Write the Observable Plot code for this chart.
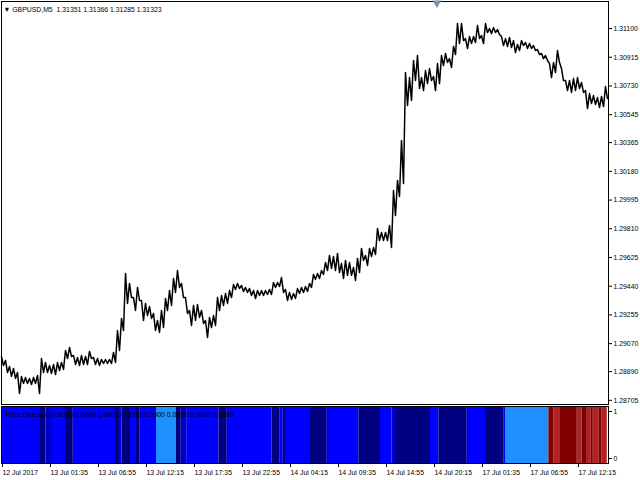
<!DOCTYPE html>
<html><head><meta charset="utf-8">
<script src="https://cdn.jsdelivr.net/npm/d3@7"></script>
<script src="https://cdn.jsdelivr.net/npm/@observablehq/plot@0.6"></script>
<style>
body{margin:0;background:#fff;}
#chart{position:relative;width:640px;height:480px;overflow:hidden;background:#fff;}
#chart svg{display:block;}
</style></head><body><div id="chart"></div>
<script>
// ---- data ----
const symbolTitle = "GBPUSD,M5";
const lastOHLC = ["1.31351", "1.31366", "1.31285", "1.31323"];
const indicatorTitle = "Price Direction";
const indicatorValues = ["0.0000", "0.0000", "1.0000", "0.0000", "0.0000", "0.0000", "0.0000", "0.0000"];

const priceTicks = [1.31100, 1.30915, 1.30730, 1.30545, 1.30365, 1.30180, 1.29995, 1.29810,
  1.29625, 1.29440, 1.29255, 1.29070, 1.28890, 1.28705];
const indicatorTicks = [0, 1];

const timeTickSamples = [0, 12, 24, 36, 48, 60, 72, 84, 96, 108, 120, 132, 144];
const timeTickLabels = ["12 Jul 2017", "13 Jul 01:35", "13 Jul 06:55", "13 Jul 12:15", "13 Jul 17:35",
  "13 Jul 22:55", "14 Jul 04:15", "14 Jul 09:35", "14 Jul 14:55", "14 Jul 20:15",
  "17 Jul 01:35", "17 Jul 06:55", "17 Jul 12:15"];

// price range per sample (one sample = ~20 min of M5 bars)
const sampleHigh = [
  1.28987, 1.28962, 1.28923, 1.28910, 1.28884, 1.28859, 1.28852, 1.28846, 1.28852, 1.28865,
  1.28974, 1.28949, 1.28929, 1.28936, 1.28949, 1.28949, 1.29026, 1.29045, 1.28994, 1.28981,
  1.28994, 1.28987, 1.29020, 1.28981, 1.28974, 1.28968, 1.28968, 1.28968, 1.29013, 1.29155,
  1.29232, 1.29522, 1.29458, 1.29367, 1.29432, 1.29348, 1.29329, 1.29309, 1.29264, 1.29219,
  1.29284, 1.29361, 1.29412, 1.29490, 1.29541, 1.29458, 1.29367, 1.29284, 1.29316, 1.29322,
  1.29284, 1.29219, 1.29239, 1.29251, 1.29367, 1.29380, 1.29393, 1.29412, 1.29451, 1.29458,
  1.29445, 1.29432, 1.29425, 1.29412, 1.29412, 1.29412, 1.29412, 1.29419, 1.29464, 1.29464,
  1.29496, 1.29419, 1.29400, 1.29393, 1.29425, 1.29432, 1.29438, 1.29458, 1.29516, 1.29522,
  1.29541, 1.29593, 1.29638, 1.29631, 1.29651, 1.29586, 1.29606, 1.29593, 1.29561, 1.29619,
  1.29683, 1.29638, 1.29683, 1.29689, 1.29812, 1.29786, 1.29786, 1.29831, 1.30056, 1.30121,
  1.30378, 1.30816, 1.30784, 1.30894, 1.30926, 1.30784, 1.30829, 1.30842, 1.30791, 1.30874,
  1.30926, 1.30939, 1.30906, 1.30984, 1.31132, 1.31132, 1.31035, 1.31048, 1.31048, 1.31119,
  1.31055, 1.31132, 1.31100, 1.31106, 1.31093, 1.31048, 1.31035, 1.31042, 1.31022, 1.30997,
  1.31022, 1.31010, 1.31003, 1.30990, 1.30964, 1.30939, 1.30926, 1.30874, 1.30881, 1.30958,
  1.30842, 1.30765, 1.30765, 1.30778, 1.30784, 1.30752, 1.30700, 1.30681, 1.30668, 1.30655,
  1.30662, 1.30726];
const sampleLow = [
  1.28929, 1.28884, 1.28859, 1.28846, 1.28749, 1.28814, 1.28814, 1.28807, 1.28814, 1.28749,
  1.28884, 1.28884, 1.28878, 1.28871, 1.28897, 1.28904, 1.28974, 1.28987, 1.28936, 1.28929,
  1.28936, 1.28936, 1.28974, 1.28936, 1.28929, 1.28942, 1.28942, 1.28942, 1.28949, 1.29026,
  1.29155, 1.29329, 1.29367, 1.29284, 1.29348, 1.29219, 1.29251, 1.29232, 1.29155, 1.29142,
  1.29174, 1.29284, 1.29316, 1.29400, 1.29432, 1.29367, 1.29264, 1.29187, 1.29219, 1.29239,
  1.29200, 1.29110, 1.29174, 1.29187, 1.29284, 1.29316, 1.29329, 1.29367, 1.29419, 1.29425,
  1.29406, 1.29400, 1.29380, 1.29361, 1.29380, 1.29380, 1.29387, 1.29387, 1.29432, 1.29438,
  1.29400, 1.29348, 1.29354, 1.29361, 1.29393, 1.29400, 1.29406, 1.29432, 1.29484, 1.29490,
  1.29516, 1.29541, 1.29554, 1.29541, 1.29528, 1.29490, 1.29510, 1.29510, 1.29477, 1.29528,
  1.29606, 1.29574, 1.29631, 1.29644, 1.29734, 1.29734, 1.29734, 1.29689, 1.29895, 1.30018,
  1.30101, 1.30604, 1.30636, 1.30765, 1.30713, 1.30700, 1.30745, 1.30765, 1.30700, 1.30745,
  1.30861, 1.30881, 1.30849, 1.30932, 1.31003, 1.31022, 1.30971, 1.31003, 1.31010, 1.31035,
  1.31003, 1.31074, 1.31067, 1.31074, 1.31061, 1.30990, 1.30984, 1.30977, 1.30945, 1.30958,
  1.30990, 1.30971, 1.30971, 1.30958, 1.30932, 1.30906, 1.30894, 1.30784, 1.30816, 1.30881,
  1.30765, 1.30700, 1.30688, 1.30700, 1.30713, 1.30688, 1.30584, 1.30617, 1.30610, 1.30591,
  1.30597, 1.30649];

// indicator state segments (end position in samples, state)
const bandEnds = [9.5, 10.9, 12.5, 15.75, 17.7, 28.25, 29.25, 29.9, 32, 33.5,
  34.3, 38.5, 43.5, 44.7, 46.2, 54.1, 56.2, 67.4, 69.3, 70.2,
  70.75, 77, 81.2, 89.1, 94.5, 97.4, 98.25, 107, 109.1, 116.2,
  120.75, 125.3, 125.75, 136.6, 137.8, 139.5, 143.7, 144.9, 146.2, 147.2,
  147.7, 149.1, 149.9, 151.2];
const bandStates = ["Blue", "Navy", "MediumBlue", "Blue", "Navy", "Blue", "Navy", "Blue", "Navy", "Blue",
  "Navy", "Blue", "DodgerBlue", "Navy", "MediumBlue", "Blue", "Navy", "Blue", "Navy", "Blue",
  "Navy", "Blue", "Navy", "Blue", "Navy", "Blue", "MediumBlue", "Navy", "Blue", "Navy",
  "Blue", "Navy", "Blue", "DodgerBlue", "Maroon", "FireBrick", "Maroon", "Brown", "Maroon", "FireBrick",
  "Maroon", "FireBrick", "Maroon", "FireBrick"];
const stateNames = ["Blue", "Navy", "MediumBlue", "DodgerBlue", "Maroon", "FireBrick", "Brown"];
const stateColors = ["#0000ff", "#000080", "#0000cd", "#1e90ff", "#800000", "#b22222", "#a52a2a"];

const shiftSample = 108.6;

// ---- build ----
const xDomain = [-0.25, 151.5];
const zig = [];
sampleHigh.forEach((h, k) => {
  zig.push({x: k - 0.25, y: h});
  zig.push({x: k + 0.25, y: sampleLow[k]});
});
const bands = bandEnds.map((e, i) => ({x1: i ? bandEnds[i - 1] : xDomain[0], x2: e, state: bandStates[i]}));

const font = {fontSize: "7.4px", fontFamily: "'Liberation Sans', Arial, sans-serif", background: "white", color: "black"};

const main = Plot.plot({
  width: 640, height: 405,
  marginTop: 1, marginBottom: 1, marginLeft: 1, marginRight: 32,
  style: font,
  x: {domain: xDomain, axis: null},
  y: {domain: [1.28678, 1.31274], axis: null},
  marks: [
    Plot.line(zig, {x: "x", y: "y", stroke: "black", strokeWidth: 1.5}),
    Plot.axisY({anchor: "right", ticks: priceTicks, tickSize: 3, tickPadding: 2,
      tickFormat: d => d.toFixed(5), label: null, stroke: "black", fill: "black"}),
    Plot.frame({stroke: "black"}),
    Plot.text(["\u25BC " + symbolTitle + "  " + lastOHLC.join(" ")],
      {frameAnchor: "top-left", dx: 2, dy: 8, textAnchor: "start", lineAnchor: "middle", fill: "black"}),
    Plot.dot([shiftSample], {x: d => d, frameAnchor: "top", dy: 1.5, symbol: "triangle", rotate: 180, r: 3.2,
      fill: "#7d8fa8", stroke: "none"})
  ]
});

const ind = Plot.plot({
  width: 640, height: 75,
  marginTop: 1, marginBottom: 17, marginLeft: 1, marginRight: 32,
  style: font,
  x: {domain: xDomain, axis: null},
  y: {domain: [-0.106, 1.106], axis: null},
  color: {domain: stateNames, range: stateColors},
  marks: [
    Plot.rect(bands, {x1: "x1", x2: "x2", fill: "state"}),
    Plot.axisY({anchor: "right", ticks: indicatorTicks, tickSize: 3, tickPadding: 2,
      tickFormat: d => String(d), label: null, stroke: "black", fill: "black"}),
    Plot.axisX({anchor: "bottom", ticks: timeTickSamples, tickSize: 4, tickPadding: 2, textAnchor: "start", dx: 0,
      tickFormat: d => timeTickLabels[timeTickSamples.indexOf(d)], label: null, stroke: "black", fill: "black"}),
    Plot.frame({stroke: "black"}),
    Plot.text([indicatorTitle + " " + indicatorValues.join(" ")],
      {frameAnchor: "top-left", dx: 4, dy: 8, textAnchor: "start", lineAnchor: "middle", fill: "black"})
  ]
});

const root = document.getElementById("chart");
root.appendChild(main);
root.appendChild(ind);

// narrow the labels to match the condensed terminal font
root.querySelectorAll("svg text").forEach(t => {
  const L = t.getComputedTextLength();
  if (L > 0) {
    t.setAttribute("textLength", (L * 0.93).toFixed(1));
    t.setAttribute("lengthAdjust", "spacingAndGlyphs");
  }
});
</script>
</body></html>
